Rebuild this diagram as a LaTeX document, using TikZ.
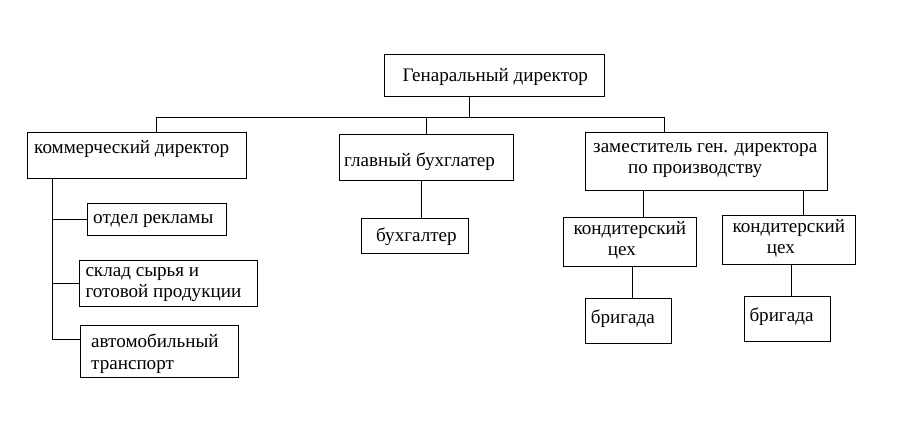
\documentclass[tikz,border=0pt]{standalone}
\usepackage{fontspec}
\setmainfont{Liberation Serif}
\begin{document}
\begin{tikzpicture}[x=1pt,y=-1pt,
  box/.style={draw,line width=0.9pt,rectangle,inner sep=0pt},
  lbl/.style={anchor=base west,inner sep=0pt,font=\fontsize{19.1}{21.5}\selectfont},
  conn/.style={line width=0.9pt}]
\useasboundingbox (0,0) rectangle (913,422);
% boxes
\node[box,minimum width=220pt,minimum height=42pt] (gen) at (494,75) {};
\node[box,minimum width=219pt,minimum height=46pt] (comm) at (136.5,155) {};
\node[box,minimum width=174pt,minimum height=46pt] (chief) at (426,157) {};
\node[box,minimum width=242pt,minimum height=58pt] (deputy) at (706,161) {};
\node[box,minimum width=139pt,minimum height=32pt] (ad) at (156.5,219) {};
\node[box,minimum width=178pt,minimum height=46pt] (ware) at (168,283) {};
\node[box,minimum width=158pt,minimum height=52pt] (auto) at (159,351) {};
\node[box,minimum width=107pt,minimum height=35pt] (acc) at (414.5,235.5) {};
\node[box,minimum width=133pt,minimum height=49pt] (shopA) at (629.5,241.5) {};
\node[box,minimum width=133pt,minimum height=49pt] (shopB) at (788.5,239.5) {};
\node[box,minimum width=86pt,minimum height=45pt] (brigA) at (628,320.5) {};
\node[box,minimum width=86pt,minimum height=45pt] (brigB) at (787,318.5) {};
% texts
\node[lbl] (tgen) at (402.3,81.7) {Генаральный директор};
\node[lbl] (tcomm) at (34,154) {коммерческий директор};
\node[lbl] (tchief) at (344,166.7) {главный бухглатер};
\node[lbl] (tdep1) at (593,152.3) {заместитель ген. директора};
\node[lbl] (tdep2) at (628,173.3) {по производству};
\node[lbl] (tad) at (93,223.3) {отдел рекламы};
\node[lbl] (tware1) at (85.3,276.7) {склад сырья и};
\node[lbl] (tware2) at (85.3,297.3) {готовой продукции};
\node[lbl] (tauto1) at (91,347.7) {автомобильный};
\node[lbl] (tauto2) at (91,369) {транспорт};
\node[lbl] (tacc) at (376,241) {бухгалтер};
\node[lbl] (tshopA1) at (573.3,234.3) {кондитерский};
\node[lbl] (tshopA2) at (607.7,255.3) {цех};
\node[lbl] (tshopB1) at (732.3,232.3) {кондитерский};
\node[lbl] (tshopB2) at (766.7,253.3) {цех};
\node[lbl] (tbrigA) at (590.7,323) {бригада};
\node[lbl] (tbrigB) at (749.3,321.3) {бригада};
% connector points
\coordinate (busG) at (469,117);
\coordinate (busL) at (156,117);
\coordinate (busR) at (664,117);
\coordinate (commV) at (52.5,339);
\coordinate (accC) at (421,218);
\coordinate (shopAC) at (643,217);
\coordinate (shopBC) at (803,215);
\coordinate (brigAC) at (632,298);
\coordinate (brigBC) at (791,296);
% connectors
\draw[conn] (gen.south -| busG) -- (busG);
\draw[conn] (busL) -- (busR);
\draw[conn] (busL) -- (busL |- comm.north);
\draw[conn] (chief.north) -- (chief.north |- busL);
\draw[conn] (busR) -- (busR |- deputy.north);
\draw[conn] (comm.south -| commV) -- (commV) -- (auto.west |- commV);
\draw[conn] (ad.west -| commV) -- (ad.west);
\draw[conn] (ware.west -| commV) -- (ware.west);
\draw[conn] (chief.south -| accC) -- (accC);
\draw[conn] (deputy.south -| shopAC) -- (shopAC);
\draw[conn] (deputy.south -| shopBC) -- (shopBC);
\draw[conn] (shopA.south -| brigAC) -- (brigAC);
\draw[conn] (shopB.south -| brigBC) -- (brigBC);
\end{tikzpicture}
\end{document}
